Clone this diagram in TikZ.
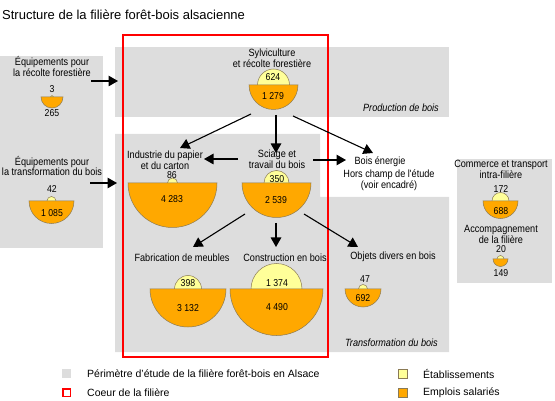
\documentclass[tikz,border=0pt]{standalone}
\usepackage{fontspec}
\setmainfont{Liberation Sans}
\newfontfamily\etroite[FakeStretch=0.87]{Liberation Sans}
\usepackage{tikz}
\usetikzlibrary{arrows.meta}
\definecolor{zonegris}{HTML}{DDDDDD}
\definecolor{jaune}{HTML}{FFFF99}
\definecolor{orangeb}{HTML}{FFA800}
\definecolor{contour}{HTML}{8A7A55}
\begin{document}
\begin{tikzpicture}[
  x=1pt, y=-1pt,
  >=Latex,
  zone/.style={fill=zonegris, draw=none},
  coeur/.style={draw=red, line width=1.8pt},
  etab/.style={fill=jaune, draw=contour, line width=0.5pt},
  empl/.style={fill=orangeb, draw=contour, line width=0.5pt},
  lbl/.style={font=\etroite\fontsize{10.5}{8.8}\selectfont, align=center, inner sep=0pt},
  num/.style={font=\etroite\fontsize{10}{9}\selectfont, inner sep=0pt},
  secteur/.style={font=\etroite\itshape\fontsize{10.5}{10}\selectfont, anchor=east, inner sep=0pt},
  fl/.style={-{Triangle[length=9.5pt,width=10.5pt]}, line width=1.1pt},
  leg/.style={font=\fontsize{10.5}{12}\selectfont, anchor=west, inner sep=0pt}]
\useasboundingbox (0,0) rectangle (555,401);
% bubble: yellow circle = establishments, orange half disc = salaried jobs
\def\bulle#1#2#3#4{%
  \filldraw[etab] (#1,#2) circle (#3pt);
  \filldraw[empl] (#1,#2) ++(-#4pt,0) arc[start angle=180, end angle=360, radius=#4pt] -- cycle;}
% title
\node[anchor=west, inner sep=0pt, font=\fontsize{13}{14}\selectfont] (titre) at (2,15)
  {Structure de la filière forêt-bois alsacienne};
% --- grey study areas ---
\fill[zone] (0,56) rectangle (103,248);
\fill[zone] (115,47) rectangle (449,117);
\fill[zone] (115,134) -- (320,134) -- (320,197) -- (449,197) -- (449,352) -- (115,352) -- cycle;
\fill[zone] (457,159) rectangle (552,283);
% heart of the sector
\draw[coeur] (123,35) rectangle (328,357);
% sector names
\node[secteur] (prod) at (439,108) {Production de bois};
\node[secteur] (transf) at (438,343) {Transformation du bois};
% --- bubbles ---
\bulle{52}{97}{1.5}{11}
\bulle{51.5}{201}{4.5}{22.5}
\bulle{273.5}{85}{16}{24.5}
\bulle{172.5}{183}{5}{44.5}
\bulle{276.5}{183}{12.5}{34.5}
\bulle{188}{289}{13.5}{38}
\bulle{276.5}{289}{25.5}{46.5}
\bulle{363}{289}{4.5}{18}
\bulle{500.5}{201}{8.5}{17.5}
\bulle{500.5}{259}{3.5}{7.5}
% --- labels ---
\node[lbl] (eqrec) at (52,66.5) {Équipements pour\\la récolte forestière};
\node[lbl] (eqtra) at (52,166) {Équipements pour\\la transformation du bois};
\node[lbl] (sylvi) at (272,58.5) {Sylviculture\\et récolte forestière};
\node[lbl] (papier) at (165,160) {Industrie du papier\\et du carton};
\node[lbl] (sciage) at (277,159.5) {Sciage et\\travail du bois};
\node[lbl] (energie) at (380,162) {Bois énergie};
\node[lbl] (hors) at (389,180.5) {Hors champ de l'étude\\(voir encadré)};
\node[lbl] (meubles) at (182,258) {Fabrication de meubles};
\node[lbl] (constr) at (285,258) {Construction en bois};
\node[lbl] (objets) at (393,257) {Objets divers en bois};
\node[lbl] (commerce) at (501,169) {Commerce et transport\\intra-filière};
\node[lbl] (accomp) at (501,234) {Accompagnement\\de la filière};
% --- figures ---
\node[num] (n1) at (52,89) {3};
\node[num] (n2) at (52,113) {265};
\node[num] (n3) at (52,189) {42};
\node[num] (n4) at (52,213) {1 085};
\node[num] (n5) at (273,77) {624};
\node[num] (n6) at (273,96) {1 279};
\node[num] (n7) at (172,175) {86};
\node[num] (n8) at (172,199) {4 283};
\node[num] (n9) at (277,179) {350};
\node[num] (n10) at (276,200) {2 539};
\node[num] (n11) at (188,283) {398};
\node[num] (n12) at (188,308) {3 132};
\node[num] (n13) at (277,283) {1 374};
\node[num] (n14) at (277,307) {4 490};
\node[num] (n15) at (365,279) {47};
\node[num] (n16) at (363,298) {692};
\node[num] (n17) at (501,189) {172};
\node[num] (n18) at (501,211) {688};
\node[num] (n19) at (501,249.5) {20};
\node[num] (n20) at (501,273) {149};
% --- arrow ends ---
\coordinate (a1) at (91,81);   \coordinate (b1) at (118,81);
\coordinate (a2) at (90,183);  \coordinate (b2) at (117,183);
\coordinate (a3) at (251,114); \coordinate (b3) at (180,148);
\coordinate (a4) at (276,115); \coordinate (b4) at (276,153);
\coordinate (a5) at (293,116); \coordinate (b5) at (373,153);
\coordinate (a6) at (238,159); \coordinate (b6) at (204,159);
\coordinate (a7) at (313,160); \coordinate (b7) at (346,160);
\coordinate (a8) at (245,214); \coordinate (b8) at (193,247);
\coordinate (a9) at (276,223); \coordinate (b9) at (276,247);
\coordinate (a10) at (304,214); \coordinate (b10) at (358,247);
\foreach \i in {1,...,10} \draw[fl] (a\i) -- (b\i);
% --- legend ---
\fill[zone] (62,369) rectangle (71,378);
\node[leg] (lzone) at (87,373.5) {Périmètre d'étude de la filière forêt-bois en Alsace};
\draw[coeur, line width=1.6pt] (63,389) rectangle (70.5,396.5);
\node[leg] (lcoeur) at (87,392.5) {Coeur de la filière};
\filldraw[etab] (398,369) rectangle (407,378);
\node[leg] (letab) at (423,373.5) {Établissements};
\filldraw[empl] (398,388) rectangle (407,397);
\node[leg] (lempl) at (423,392.5) {Emplois salariés};
\end{tikzpicture}
\end{document}
